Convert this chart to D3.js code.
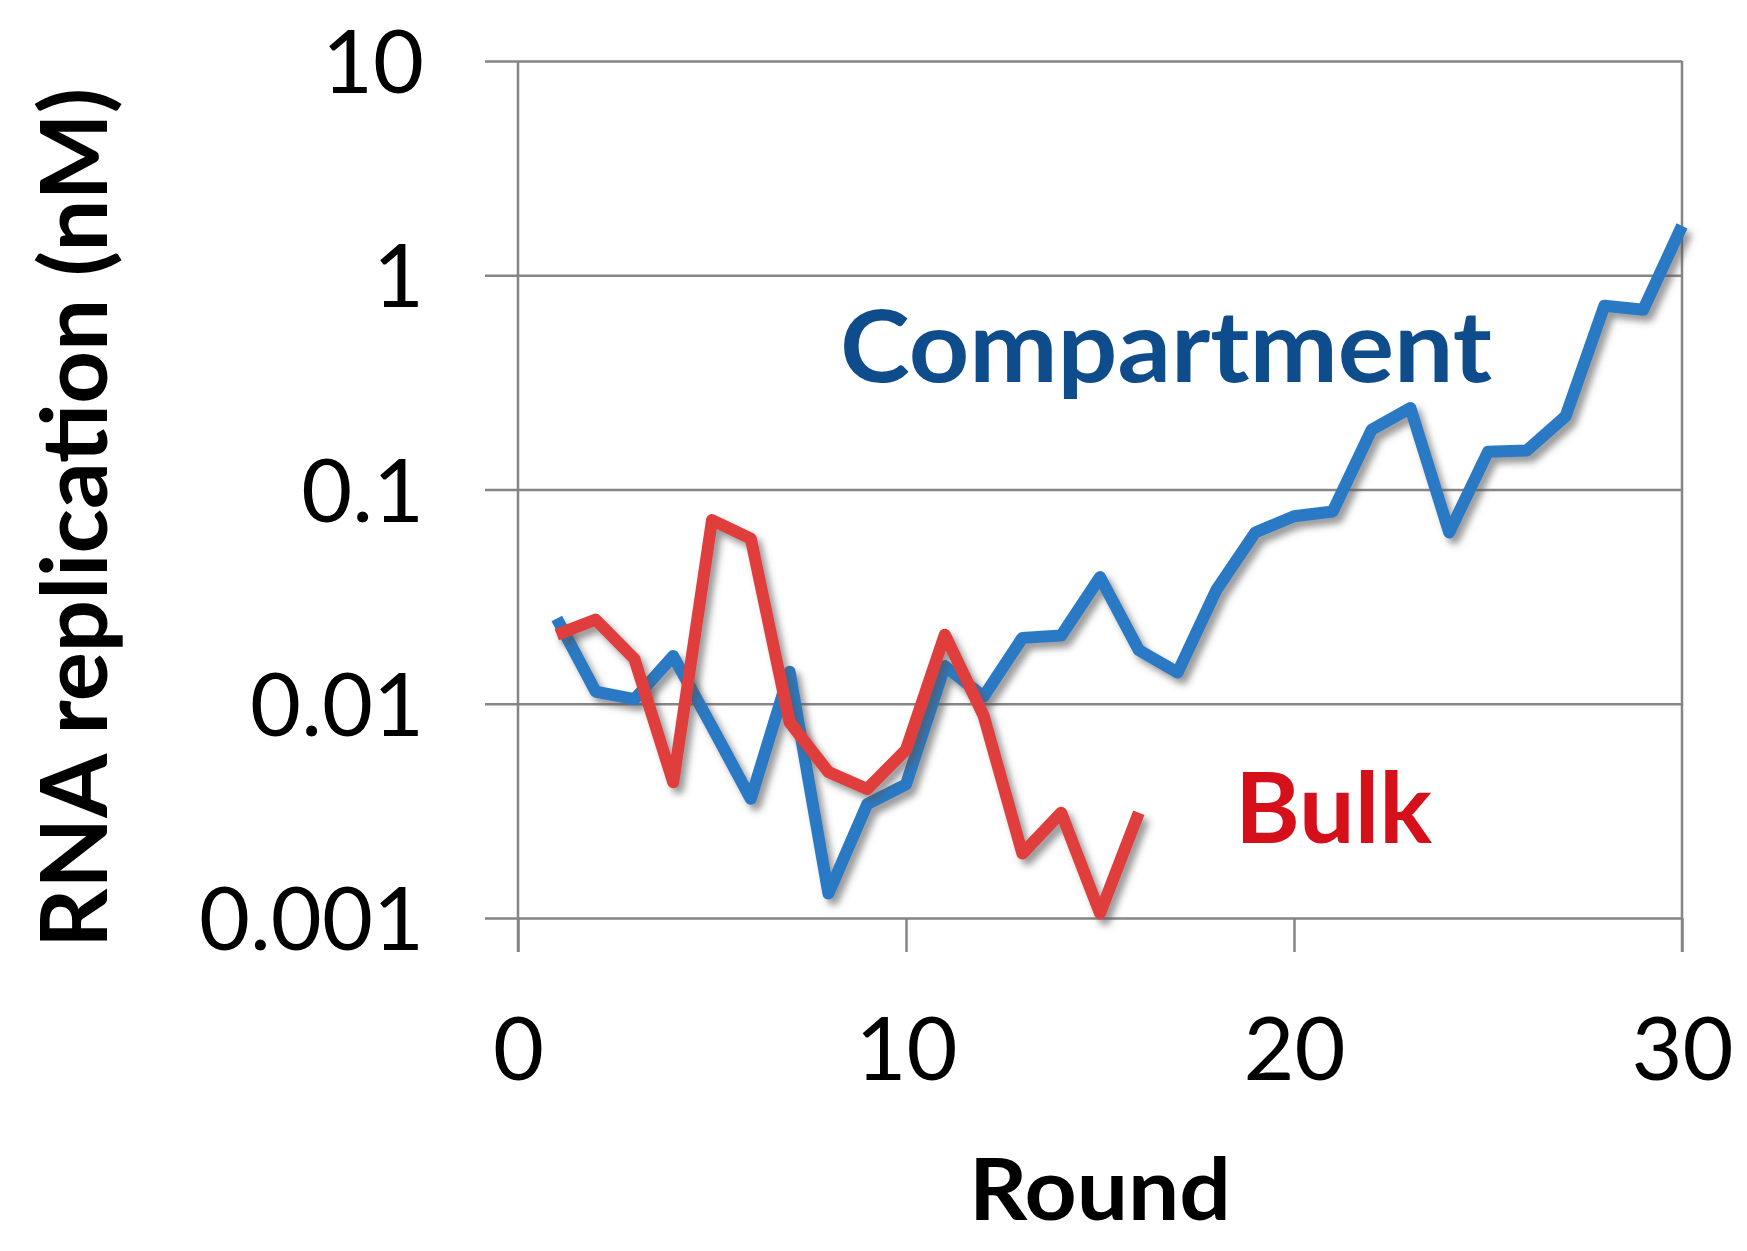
<html>
<head>
<meta charset="UTF-8">
<title>RNA replication</title>
<script src="https://d3js.org/d3.v7.min.js"></script>
<style>html,body{margin:0;padding:0;background:#fff;}</style>
</head>
<body>
<div id="container"></div>
<script>
// rounds 1..30 (compartment) and 1..16 (bulk), values in nM
const compartmentRounds = d3.range(1, 31)
const compartment = [0.025, 0.0114, 0.0105, 0.0167, 0.0078, 0.0036, 0.0141, 0.0013, 0.0034, 0.0042,
    0.015, 0.0108, 0.0203, 0.0208, 0.039, 0.0178, 0.014, 0.034, 0.063, 0.075,
    0.079, 0.19, 0.24, 0.063, 0.15, 0.152, 0.22, 0.72, 0.69, 1.7]
const bulkRounds = d3.range(1, 17)
const bulk = [0.021, 0.0247, 0.0162, 0.0043, 0.072, 0.059, 0.0082, 0.0048, 0.004, 0.0061,
    0.021, 0.0088, 0.002, 0.0031, 0.00105, 0.0031]
const xTicks = [0, 10, 20, 30]
const yTicks = [0.001, 0.01, 0.1, 1, 10]
const yTickLabels = ['0.001', '0.01', '0.1', '1', '10']

const width = 1747, height = 1251
const marge = { top: 61, right: 1682, bottom: 918, left: 518 }

const svg = d3.select('#container').append('svg')
    .attr('width', width)
    .attr('height', height)
    .style('font-family', 'Lato, "Open Sans", sans-serif')

const x = d3.scaleLinear().domain([0, 30]).range([marge.left, marge.right])
const y = d3.scaleLog().domain([0.001, 10]).range([marge.bottom, marge.top])

// drop shadow under the lines
const defs = svg.append('defs')
defs.append('filter').attr('id', 'shadow')
    .attr('x', '-10%').attr('y', '-10%').attr('width', '120%').attr('height', '120%')
  .append('feDropShadow')
    .attr('dx', 5).attr('dy', 6).attr('stdDeviation', 3.5)
    .attr('flood-color', '#555').attr('flood-opacity', 0.6)

// horizontal gridlines + y labels
const yAxis = svg.append('g')
    .attr('transform', 'translate(' + (marge.left - 33) + ',0)')
    .call(d3.axisLeft(y).tickValues(yTicks)
        .tickFormat((d, i) => yTickLabels[i])
        .tickSize(-(marge.right - marge.left + 33)).tickPadding(61))
yAxis.select('.domain').remove()
yAxis.selectAll('line').attr('stroke', '#858585').attr('stroke-width', 2.5)
yAxis.selectAll('text')
    .attr('font-size', 88).attr('fill', '#000').attr('font-family', 'Lato')
    .attr('dy', 31.5)

// x axis ticks + labels
const xAxis = svg.append('g')
    .attr('transform', 'translate(0,' + marge.bottom + ')')
    .call(d3.axisBottom(x).tickValues(xTicks).tickSize(34).tickPadding(0))
xAxis.select('.domain').remove()
xAxis.selectAll('line').attr('stroke', '#858585').attr('stroke-width', 2.5)
xAxis.selectAll('text')
    .attr('font-size', 88).attr('fill', '#000').attr('font-family', 'Lato')
    .attr('y', 1080 - marge.bottom).attr('dy', 0)

// left axis line and right border line
svg.append('line')
    .attr('x1', x(0)).attr('x2', x(0)).attr('y1', marge.top).attr('y2', marge.bottom + 34)
    .attr('stroke', '#858585').attr('stroke-width', 2.5)
svg.append('line')
    .attr('x1', x(30)).attr('x2', x(30)).attr('y1', marge.top).attr('y2', marge.bottom + 34)
    .attr('stroke', '#858585').attr('stroke-width', 2.5)

const line = d3.line()
    .x(d => x(d[0]))
    .y(d => y(d[1]))

svg.append('path')
    .datum(compartmentRounds.map((r, i) => [r, compartment[i]]))
    .attr('d', line)
    .attr('fill', 'none')
    .attr('stroke', '#2a79c4')
    .attr('stroke-width', 12)
    .attr('stroke-linejoin', 'round')
    .attr('filter', 'url(#shadow)')

svg.append('path')
    .datum(bulkRounds.map((r, i) => [r, bulk[i]]))
    .attr('d', line)
    .attr('fill', 'none')
    .attr('stroke', '#e03e3e')
    .attr('stroke-width', 12)
    .attr('stroke-linejoin', 'round')
    .attr('filter', 'url(#shadow)')

// series labels
svg.append('text')
    .attr('x', 840).attr('y', 382)
    .attr('font-size', 100).attr('font-weight', 'bold')
    .attr('fill', '#0e4c8c')
    .attr('textLength', 652).attr('lengthAdjust', 'spacingAndGlyphs')
    .text('Compartment')

svg.append('text')
    .attr('x', 1235).attr('y', 843)
    .attr('font-size', 98).attr('font-weight', 'bold')
    .attr('fill', '#d5101a')
    .attr('textLength', 197).attr('lengthAdjust', 'spacingAndGlyphs')
    .text('Bulk')

// axis titles
svg.append('text')
    .attr('x', 1100).attr('y', 1220)
    .attr('text-anchor', 'middle')
    .attr('font-size', 87).attr('font-weight', 'bold')
    .attr('textLength', 262).attr('lengthAdjust', 'spacingAndGlyphs')
    .text('Round')

svg.append('text')
    .attr('transform', 'translate(107,518) rotate(-90)')
    .attr('text-anchor', 'middle')
    .attr('font-size', 91).attr('font-weight', 'bold')
    .attr('textLength', 860).attr('lengthAdjust', 'spacingAndGlyphs')
    .text('RNA replication (nM)')
</script>
</body>
</html>
